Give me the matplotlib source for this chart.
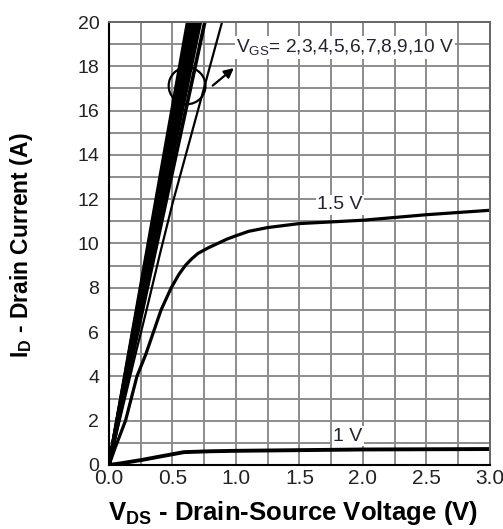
import matplotlib
matplotlib.use("Agg")
import matplotlib.pyplot as plt
from matplotlib.patches import Ellipse
import numpy as np

plt.rcParams['font.family'] = ['Liberation Sans', 'DejaVu Sans']
plt.rcParams['mathtext.fontset'] = 'custom'
plt.rcParams['mathtext.rm'] = 'Liberation Sans'
plt.rcParams['mathtext.bf'] = 'Liberation Sans:bold'

# VGS = 1 V curve
vds_1v = [0.0, 0.1, 0.26, 0.4, 0.59, 0.8, 1.0, 1.5, 2.0, 2.5, 3.0]
id_1v = [0.0, 0.08, 0.23, 0.38, 0.58, 0.62, 0.64, 0.67, 0.7, 0.71, 0.72]

# VGS = 1.5 V curve
vds_15v = [0.0, 0.05, 0.13, 0.22, 0.29, 0.35, 0.41, 0.49, 0.55, 0.6, 0.65, 0.7, 0.78,
           0.855, 0.93, 1.0, 1.1, 1.25, 1.5, 2.0, 2.5, 3.0]
id_15v = [0.0, 0.8, 2.0, 4.0, 5.0, 6.0, 7.0, 8.0, 8.6, 9.0, 9.3, 9.55, 9.8,
          10.0, 10.2, 10.35, 10.55, 10.72, 10.9, 11.05, 11.3, 11.5]

# VGS = 2 V curve (thin one)
vds_2v = [0.0, 0.1, 0.2, 0.3, 0.4, 0.5, 0.6, 0.7, 0.8, 0.9]
id_2v = [0.0, 2.4, 4.8, 7.1, 9.5, 11.8, 13.9, 16.0, 18.1, 20.2]

# VGS = 3..10 V (bundle, nearly straight) - slope in A/V
vgs_bundle = [3, 4, 5, 6, 7, 8, 9, 10]
slope_bundle = [26.5, 27.8, 28.8, 29.7, 30.5, 31.2, 31.8, 32.3]

fig = plt.figure(figsize=(5.03, 5.29), dpi=100)
ax = fig.add_axes([0.2167, 0.121, 0.7573, 0.8374])

ax.set_xlim(0, 3.0)
ax.set_ylim(0, 20)
ax.set_xticks(np.arange(0, 3.01, 0.5))
ax.set_xticks(np.arange(0, 3.01, 0.25), minor=True)
ax.set_yticks(np.arange(0, 20.1, 2))
ax.set_yticks(np.arange(0, 20.1, 1), minor=True)
ax.set_xticklabels(['0.0', '0.5', '1.0', '1.5', '2.0', '2.5', '3.0'])
ax.grid(which='both', color='#8c8c8c', linewidth=1.4)
ax.set_axisbelow(True)
ax.tick_params(which='both', length=0)
ax.tick_params(axis='x', labelsize=15, pad=3, colors='#222222')
ax.tick_params(axis='y', labelsize=14, pad=7, colors='#222222')

for side in ['left', 'bottom']:
    ax.spines[side].set_color('black')
    ax.spines[side].set_linewidth(1.5)
for side in ['top', 'right']:
    ax.spines[side].set_color('#666666')
    ax.spines[side].set_linewidth(1.4)

ax.plot(vds_1v, id_1v, color='black', lw=2.8, solid_capstyle='butt')
ax.plot(vds_15v, id_15v, color='black', lw=2.3)
ax.plot(vds_2v, id_2v, color='black', lw=1.6)
v = np.array([0.0, 1.0])
for s in slope_bundle:
    ax.plot(v, s * v, color='black', lw=2.6)

# labels
ax.text(1.82, 11.75, '1.5 V', fontsize=14, ha='center', va='center', color='#222233',
        bbox=dict(facecolor='white', edgecolor='none', pad=1))
ax.text(1.88, 1.3, '1 V', fontsize=14, ha='center', va='center', color='#222233',
        bbox=dict(facecolor='white', edgecolor='none', pad=1))
ax.text(1.0, 18.85, r'$\mathregular{V_{GS}}$= 2,3,4,5,6,7,8,9,10 V', fontsize=13.8,
        ha='left', va='center', color='#222233',
        bbox=dict(facecolor='white', edgecolor='none', pad=1))

ax.add_patch(Ellipse((0.615, 17.12), 0.29, 1.66, fill=False, edgecolor='black', lw=1.6, zorder=5))
ax.annotate('', xy=(1.0, 18.0), xytext=(0.8, 17.05),
            arrowprops=dict(arrowstyle='-|>', color='black', lw=1.6, mutation_scale=14))

ax.set_xlabel(r'$\mathbf{V_{DS}}$ - Drain-Source Voltage (V)', fontsize=18.5, fontweight='bold')
ax.xaxis.set_label_coords(0.483, -0.076)
ax.set_ylabel(r'$\mathbf{I_{D}}$ - Drain Current (A)', fontsize=16.5, fontweight='bold')
ax.yaxis.set_label_coords(-0.195, 0.495)

fig.savefig('out.png', dpi=100)
